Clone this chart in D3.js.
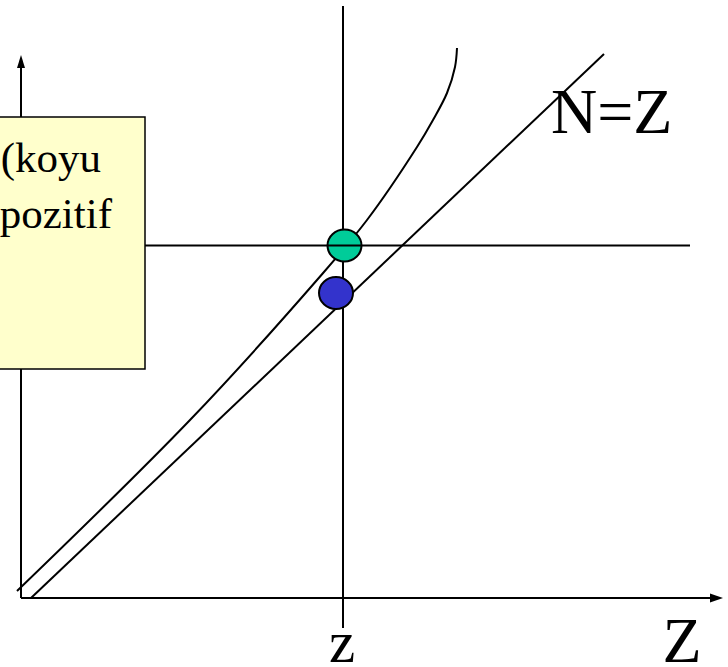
<!DOCTYPE html>
<html>
<head>
<meta charset="utf-8">
<script src="https://cdn.jsdelivr.net/npm/d3@7/dist/d3.min.js"></script>
<style>
  html, body { margin: 0; padding: 0; background: #fff; }
  svg { display: block; }
</style>
</head>
<body>
<svg id="chart" width="728" height="667"></svg>
<script>
// ---- data (abstract units) ----
const curvePoints = [[-4,7],[169,178],[296,318],[346,378],[396,451],[412,478],[426,505],[434,531],[436,550]];
const lineNZ = [[10,0],[583,544]];
const zLevel = 322;          // vertical line position
const nLevel = 352.5;        // horizontal line level
const greenPoint = [323.5, 352.5];
const bluePoint = [315, 305];
const boxLines = ["(koyu", "pozitif"];
const axisLabels = { small: "z", big: "Z", line: "N=Z" };

const SERIF = "Liberation Serif";
const svg = d3.select("#chart");
const x = d3.scaleLinear().domain([0, 700]).range([21, 721]);
const y = d3.scaleLinear().domain([0, 600]).range([598, -2]);

const lineGen = d3.line().x(d => x(d[0])).y(d => y(d[1]));

// axes
const ax = svg.append("g").attr("stroke", "#000").attr("stroke-width", 2);
ax.append("line").attr("x1", x(0)).attr("y1", y(0)).attr("x2", x(0)).attr("y2", y(532));
ax.append("line").attr("x1", x(0)).attr("y1", y(0)).attr("x2", x(690)).attr("y2", y(0));
svg.append("path")
  .attr("d", `M${x(0)},${y(543)} L${x(0)-4},${y(530)} L${x(0)+4},${y(530)} Z`)
  .attr("fill", "#000");
svg.append("path")
  .attr("d", `M${x(702)},${y(0)} L${x(689)},${y(0)-4.5} L${x(689)},${y(0)+4.5} Z`)
  .attr("fill", "#000");

// vertical z line and horizontal line
svg.append("line").attr("x1", x(zLevel)).attr("y1", y(592)).attr("x2", x(zLevel)).attr("y2", y(-30))
  .attr("stroke", "#000").attr("stroke-width", 2);
svg.append("line").attr("x1", x(60)).attr("y1", y(nLevel)).attr("x2", x(669)).attr("y2", y(nLevel))
  .attr("stroke", "#000").attr("stroke-width", 2);

// N=Z line
svg.append("path").attr("d", lineGen(lineNZ))
  .attr("fill", "none").attr("stroke", "#000").attr("stroke-width", 2);

// curve
svg.append("path").attr("d", d3.line().x(d => x(d[0])).y(d => y(d[1])).curve(d3.curveCatmullRom.alpha(0.5))(curvePoints))
  .attr("fill", "none").attr("stroke", "#000").attr("stroke-width", 2);

// yellow box
svg.append("rect").attr("x", -10).attr("y", 117).attr("width", 155).attr("height", 252)
  .attr("fill", "#FFFFCC").attr("stroke", "#000").attr("stroke-width", 1.5);
const bt = svg.append("g").attr("fill", "#000").attr("text-anchor", "end")
  .attr("font-family", SERIF).attr("font-size", 43);
bt.append("text").attr("x", 101).attr("y", 172).text(boxLines[0]);
bt.append("text").attr("x", 112).attr("y", 228).text(boxLines[1]);

// circles
svg.append("ellipse").attr("cx", x(greenPoint[0])).attr("cy", y(greenPoint[1])).attr("rx", 17).attr("ry", 16)
  .attr("fill", "#00CC99").attr("stroke", "#000").attr("stroke-width", 2);
svg.append("line").attr("x1", x(greenPoint[0]) - 17).attr("y1", y(nLevel)).attr("x2", x(greenPoint[0]) + 17).attr("y2", y(nLevel))
  .attr("stroke", "#000").attr("stroke-width", 2);
svg.append("ellipse").attr("cx", x(bluePoint[0])).attr("cy", y(bluePoint[1])).attr("rx", 17).attr("ry", 16)
  .attr("fill", "#3333CC").attr("stroke", "#000").attr("stroke-width", 2);

// labels
const lab = svg.append("g").attr("fill", "#000").attr("font-family", SERIF);
lab.append("text").attr("x", 551).attr("y", 133).attr("font-size", 64).text(axisLabels.line);
lab.append("text").attr("x", 682).attr("y", 662).attr("font-size", 64).attr("text-anchor", "middle").text(axisLabels.big);
lab.append("text").attr("x", 342).attr("y", 662).attr("font-size", 59).attr("text-anchor", "middle").text(axisLabels.small);
</script>
</body>
</html>
